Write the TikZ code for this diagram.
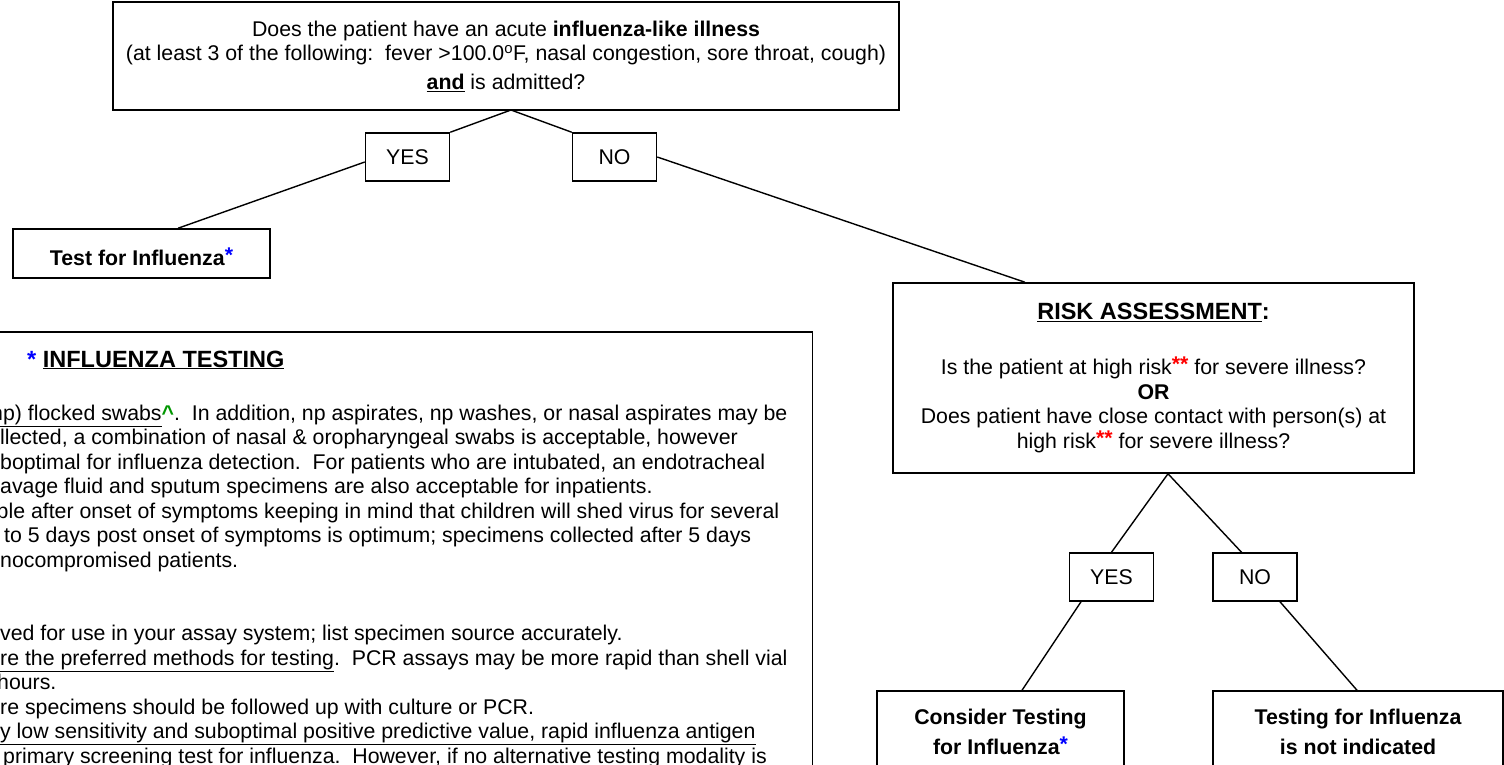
\documentclass[tikz,border=0pt]{standalone}
\usepackage{fontspec}
\setmainfont{Liberation Sans}
\usetikzlibrary{positioning}

\definecolor{starblue}{RGB}{0,0,255}
\definecolor{starred}{RGB}{255,0,0}
\definecolor{hatgreen}{RGB}{0,150,0}
\newcommand{\bodysize}{\fontsize{21.3}{24.5}\selectfont}
\newcommand{\headsize}{\fontsize{23.5}{27}\selectfont}
\newcommand{\bstar}{\textcolor{starblue}{\raisebox{3pt}{\bfseries *}}}
\newcommand{\rstars}{\textcolor{starred}{\raisebox{3pt}{\bfseries **}}}
\newcommand{\greenhat}{\textcolor{hatgreen}{\bfseries\textasciicircum}}

\begin{document}
\begin{tikzpicture}[x=1pt, y=-1pt, every node/.style={font=\bodysize},
    box/.style={draw, line width=1.5pt, inner sep=0pt, align=center},
    answer/.style={box, minimum width=84, minimum height=48},
    link/.style={line width=1.4pt},
    fline/.style={anchor=base west, inner sep=0pt}]
    \useasboundingbox (0,0) rectangle (1504,765);

    % question and first answers
    \node[box, minimum width=786, minimum height=108] (ili) at (506,56)
        {Does the patient have an acute \textbf{influenza-like illness}\\
         (at least 3 of the following:\ \ fever >100.0\textsuperscript{o}F, nasal congestion, sore throat, cough)\\[4pt]
         \textbf{\underline{and}} is admitted?};
    \node[answer] (yes1) at (407.5,157) {YES};
    \node[answer] (no1)  at (614.5,157) {NO};
    \node[box, minimum width=257, minimum height=49, text height=25pt, text depth=2pt] (test) at (141.5,253.5)
        {\textbf{Test for Influenza}\bstar};

    % risk branch
    \node[box, minimum width=521, minimum height=190] (risk) at (1153.5,378)
        {{\headsize\bfseries\underline{RISK ASSESSMENT}:}\\[31pt]
         Is the patient at high risk\rstars{} for severe illness?\\
         \textbf{OR}\\
         Does patient have close contact with person(s) at\\
         high risk\rstars{} for severe illness?};
    \node[answer] (yes2) at (1111.5,577) {YES};
    \node[answer] (no2)  at (1255,577) {NO};
    \node[box, minimum width=247, minimum height=82, font=\bodysize\bfseries] (consider) at (1000.5,732)
        {Consider Testing\\[5.5pt] for Influenza\bstar};
    \node[box, minimum width=290, minimum height=82, font=\bodysize\bfseries] (notind) at (1358,732)
        {Testing for Influenza\\[5.5pt] is not indicated};

    \coordinate (top) at (511,110);
    \draw[link] (yes1.north east) -- (top) -- (no1.north west);
    \draw[link] ([yshift=-5pt]yes1.west) -- ([xshift=36.5pt]test.north);
    \draw[link] (no1.east) -- ([xshift=-128.5pt]risk.north);
    \draw[link] ([xshift=14.5pt]risk.south) -- (yes2.north);
    \draw[link] ([xshift=14.5pt]risk.south) -- ([xshift=-13.5pt]no2.north);
    \draw[link] ([xshift=-30.5pt]yes2.south) -- ([xshift=21.5pt]consider.north);
    \draw[link] ([xshift=25pt]no2.south) -- ([xshift=-1pt]notind.north);

    % footnote box, cut by the page edge
    \node[box, minimum width=1400, minimum height=600, anchor=north east] (testing) at (813,331) {};
    \node[fline, font=\headsize\bfseries] (testhead) at (27,367)
        {\textcolor{starblue}{*} \underline{INFLUENZA TESTING}};
    \node[fline] (fn1)  at (-9,420)   {\underline{np) flocked swabs}\greenhat.\ \ In addition, np aspirates, np washes, or nasal aspirates may be};
    \node[fline] (fn2)  at (0,444.5)  {llected, a combination of nasal \& oropharyngeal swabs is acceptable, however};
    \node[fline] (fn3)  at (0,469)    {boptimal for influenza detection.\ \ For patients who are intubated, an endotracheal};
    \node[fline] (fn4)  at (0,493.5)  {avage fluid and sputum specimens are also acceptable for inpatients.};
    \node[fline] (fn5)  at (-3.5,518) {ble after onset of symptoms keeping in mind that children will shed virus for several};
    \node[fline] (fn6)  at (4,542.5)  {to 5 days post onset of symptoms is optimum; specimens collected after 5 days};
    \node[fline] (fn7)  at (0,567)    {nocompromised patients.};
    \node[fline] (fn8)  at (0,640.5)  {ved for use in your assay system; list specimen source accurately.};
    \node[fline] (fn9)  at (0,665)    {\underline{re the preferred methods for testing}.\ \ PCR assays may be more rapid than shell vial};
    \node[fline] (fn10) at (-3,689.5) {hours.};
    \node[fline] (fn11) at (0,714)    {re specimens should be followed up with culture or PCR.};
    \node[fline] (fn12) at (0,738.5)  {\underline{y low sensitivity and suboptimal positive predictive value, rapid influenza antigen}};
    \node[fline] (fn13) at (3,763)    {primary screening test for influenza.\ \ However, if no alternative testing modality is};
\end{tikzpicture}
\end{document}
